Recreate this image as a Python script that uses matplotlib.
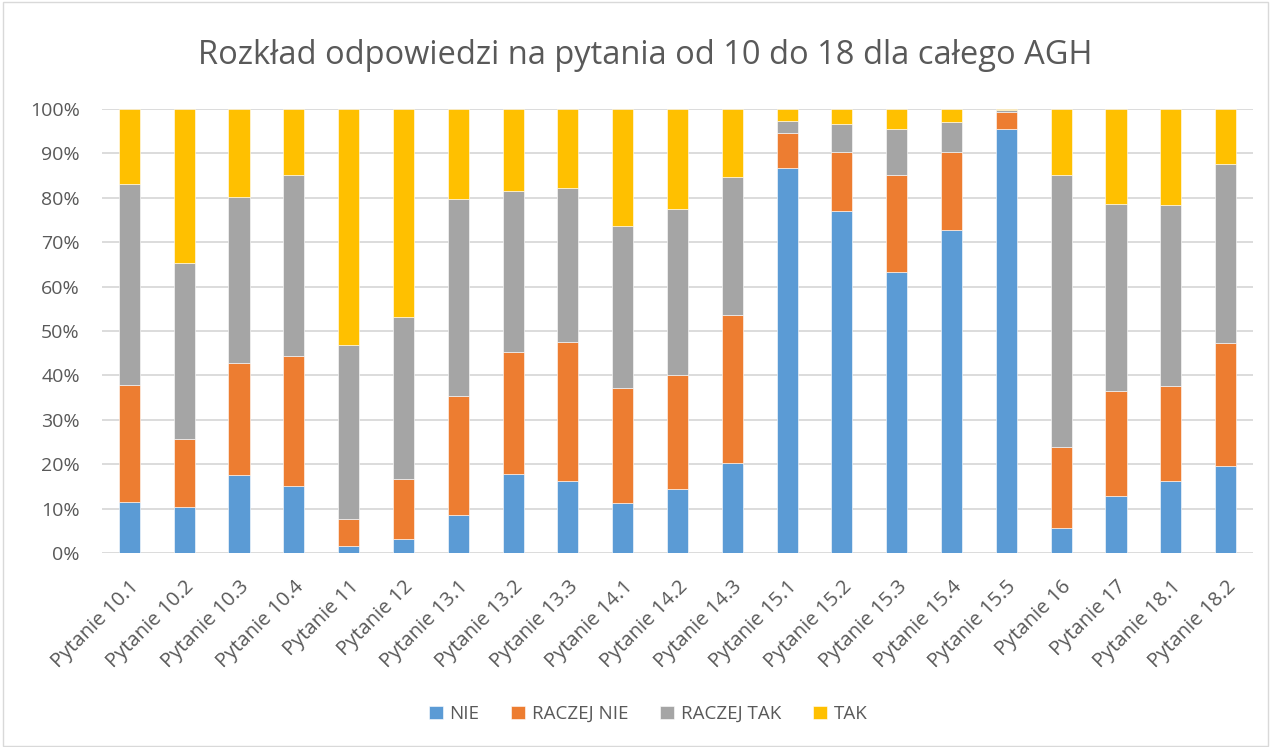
import numpy as np
import matplotlib
matplotlib.use("Agg")
from matplotlib import pyplot as plt
from matplotlib.ticker import PercentFormatter

categories = ["Pytanie 10.1", "Pytanie 10.2", "Pytanie 10.3", "Pytanie 10.4", "Pytanie 11",
              "Pytanie 12", "Pytanie 13.1", "Pytanie 13.2", "Pytanie 13.3", "Pytanie 14.1",
              "Pytanie 14.2", "Pytanie 14.3", "Pytanie 15.1", "Pytanie 15.2", "Pytanie 15.3",
              "Pytanie 15.4", "Pytanie 15.5", "Pytanie 16", "Pytanie 17", "Pytanie 18.1",
              "Pytanie 18.2"]

# shares in percent
nie = [11.4, 10.4, 17.6, 15.0, 1.6, 3.1, 8.6, 17.7, 16.2, 11.3, 14.4, 20.2,
       86.6, 77.0, 63.3, 72.7, 95.6, 5.6, 12.9, 16.2, 19.5]
raczej_nie = [26.5, 15.3, 25.3, 29.4, 6.1, 13.5, 26.8, 27.6, 31.4, 25.9, 25.8, 33.4,
              8.1, 13.3, 21.9, 17.7, 3.8, 18.3, 23.6, 21.5, 27.9]
raczej_tak = [45.3, 39.7, 37.2, 40.8, 39.2, 36.6, 44.4, 36.3, 34.7, 36.5, 37.3, 31.0,
              2.7, 6.4, 10.4, 6.6, 0.3, 61.3, 42.0, 40.6, 40.3]
tak = [16.8, 34.6, 19.9, 14.8, 53.1, 46.8, 20.2, 18.4, 17.7, 26.3, 22.5, 15.4,
       2.6, 3.3, 4.4, 3.0, 0.3, 14.8, 21.5, 21.7, 12.3]

series = [("NIE", nie, "#5B9BD5"),
          ("RACZEJ NIE", raczej_nie, "#ED7D31"),
          ("RACZEJ TAK", raczej_tak, "#A5A5A5"),
          ("TAK", tak, "#FFC000")]

plt.rcParams['font.family'] = ['Open Sans', 'DejaVu Sans']
text_col = "#595959"

fig = plt.figure(figsize=(12.71, 7.47), dpi=100)
ax = fig.add_axes([102 / 1271, 1 - 553 / 747, (1253 - 102) / 1271, (553 - 109) / 747])

x = np.arange(len(categories))
bottom = np.zeros(len(categories))
for name, vals, col in series:
    vals = np.array(vals)
    ax.bar(x, vals, 0.385, bottom=bottom, color=col, label=name,
           edgecolor="white", linewidth=0.4, zorder=3)
    bottom += vals

ax.set_xlim(-0.5, len(categories) - 0.5)
ax.set_ylim(0, 100)
ax.set_yticks(np.arange(0, 101, 10))
ax.yaxis.set_major_formatter(PercentFormatter(decimals=0))
ax.grid(axis="y", color="#D9D9D9", linewidth=1.3, zorder=0)
for s in ax.spines.values():
    s.set_visible(False)
ax.tick_params(axis="both", length=0, colors=text_col, labelsize=14)
ax.tick_params(axis="y", pad=16)
ax.set_xticks(x)
ax.set_xticklabels(categories, rotation=45, ha="right", rotation_mode="anchor")
ax.tick_params(axis="x", pad=17, labelsize=14.5)

fig.text(0.508, 1 - 55 / 747, "Rozkład odpowiedzi na pytania od 10 do 18 dla całego AGH",
         ha="center", va="center", fontsize=23.5, color=text_col)

fig.legend(loc="center", bbox_to_anchor=(0.51, 1 - 714 / 747), ncol=4, frameon=False,
           fontsize=13.5, labelcolor=text_col, handlelength=0.75, handleheight=0.75,
           handletextpad=0.35, columnspacing=1.7)

# light frame round the chart
fig.patches.append(plt.Rectangle((0.002, 0.002), 0.996, 0.995, transform=fig.transFigure,
                                 fill=False, edgecolor="#D9D9D9", linewidth=1))

fig.savefig("out.png", dpi=100)
